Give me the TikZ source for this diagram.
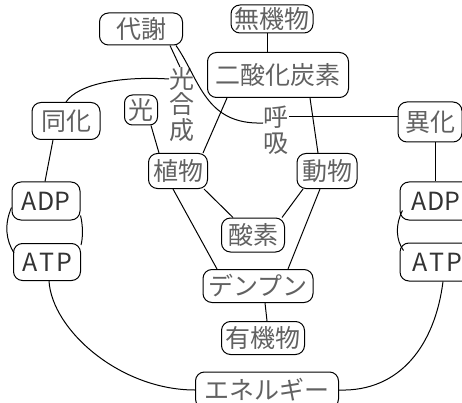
\documentclass[tikz,border=0pt]{standalone}
\usepackage{fontspec}
\setmainfont{Noto Sans CJK JP}
\usetikzlibrary{calc}
\begin{document}
\begin{tikzpicture}[x=1pt,y=-1pt,line width=1pt,
  box/.style={draw=black,rounded corners=9pt,text=black!62,inner sep=0pt,font=\fontsize{25}{27}\selectfont},
  lbl/.style={text=black!62,inner sep=0pt,font=\fontsize{25}{27}\selectfont},
  en/.style={box,text=black!80,font=\fontsize{25}{27}\selectfont},
  link/.style={draw=black,line width=1pt}]
\useasboundingbox (0,0) rectangle (462,403);
% boxes
\node[box,minimum width=83pt,minimum height=32pt] (daisha) at (141,29) {代謝};
\node[box,minimum width=82pt,minimum height=28pt] (muki) at (272,19) {無機物};
\node[box,minimum width=141pt,minimum height=45pt] (co2) at (278,75) {二酸化炭素};
\node[box,minimum width=68pt,minimum height=37pt] (douka) at (66,121) {同化};
\node[box,minimum width=33pt,minimum height=30pt,rounded corners=8pt] (hikari) at (141,110) {光};
\node[box,minimum width=59pt,minimum height=35pt] (shokubutsu) at (178,171) {植物};
\node[box,minimum width=60pt,minimum height=35pt] (doubutsu) at (327,171) {動物};
\node[box,minimum width=64pt,minimum height=40pt] (ika) at (430,122) {異化};
\node[box,minimum width=63pt,minimum height=34pt] (sanso) at (253,235) {酸素};
\node[box,minimum width=110pt,minimum height=33pt] (denpun) at (258,286) {デンプン};
\node[box,minimum width=83pt,minimum height=33pt] (yuki) at (263,338) {有機物};
\node[box,minimum width=143pt,minimum height=36pt] (energy) at (267,390) {エネルギー};
\node[en,minimum width=68pt,minimum height=38pt] (adpL) at (46,201) {ADP};
\node[en,minimum width=67pt,minimum height=37pt] (atpL) at (47,262) {A\kern2pt T\kern2pt P};
\node[en,minimum width=72pt,minimum height=38pt] (adpR) at (436,201) {ADP};
\node[en,minimum width=74pt,minimum height=38pt] (atpR) at (437,262) {A\kern2pt T\kern2pt P};
% vertical labels
\node[lbl] (kg1) at (182,79) {光};
\node[lbl] (kg2) at (182,104) {合};
\node[lbl] (kg3) at (182,130) {成};
\node[lbl] (ky1) at (276,117) {呼};
\node[lbl] (ky2) at (276,144) {吸};
% connectors
\draw[link] ([xshift=29pt]daisha.south) -- ([xshift=-2pt]kg1.north);
\draw[link] ([xshift=35pt]daisha.south) .. controls (200,80) and (205,125) .. ($(ky1.west)+(0,6)$);
\draw[link] (kg1.west) .. controls (120,76) and (78,84) .. (douka.north);
\draw[link] (ky1.east) -- (ky1.east -| ika.west);
\draw[link] ([xshift=-5pt]muki.south) -- ([xshift=-11pt]co2.north);
\draw[link] ([xshift=-51pt]co2.south) -- ([xshift=25pt]shokubutsu.north);
\draw[link] ([xshift=32pt]co2.south) -- ([xshift=-9pt]doubutsu.north);
\draw[link] ([xshift=10pt]hikari.south) -- ([xshift=-19pt]shokubutsu.north);
\draw[link] ([xshift=-4pt]shokubutsu.south east) -- ([xshift=-20pt]sanso.north);
\draw[link] ([xshift=-24pt]doubutsu.south) -- ([xshift=-3pt]sanso.north east);
\draw[link] ([xshift=-5pt]shokubutsu.south) -- ([xshift=-41pt]denpun.north);
\draw[link] ([xshift=-7pt]doubutsu.south) -- ([xshift=30pt]denpun.north);
\draw[link] ([xshift=7pt]denpun.south) -- ([xshift=4pt]yuki.north);
\draw[link] ([xshift=-13pt]douka.south) -- ([xshift=-1pt]adpL.north);
\draw[link] ([xshift=5.4pt]ika.south) -- ([xshift=-0.6pt]adpR.north);
\draw[link] ([xshift=2pt]atpL.south) .. controls (52,330) and (120,390) .. (energy.west);
\draw[link] ([xshift=6pt]atpR.south) .. controls (435,345) and (400,392) .. (energy.east);
% ADP/ATP brackets
\draw[link] ($(adpL.south west)+(0,-13)$) .. controls (4,225) and (6,240) .. ($(atpL.north west)+(1,10)$);
\draw[link] ($(adpL.south east)+(0,-5)$) .. controls (83,225) and (83,238) .. ($(atpL.north east)+(0,2)$);
\draw[link] ($(adpR.south west)+(3,-10)$) .. controls (395,225) and (396,240) .. ($(atpR.north west)+(4,8)$);
\end{tikzpicture}
\end{document}
